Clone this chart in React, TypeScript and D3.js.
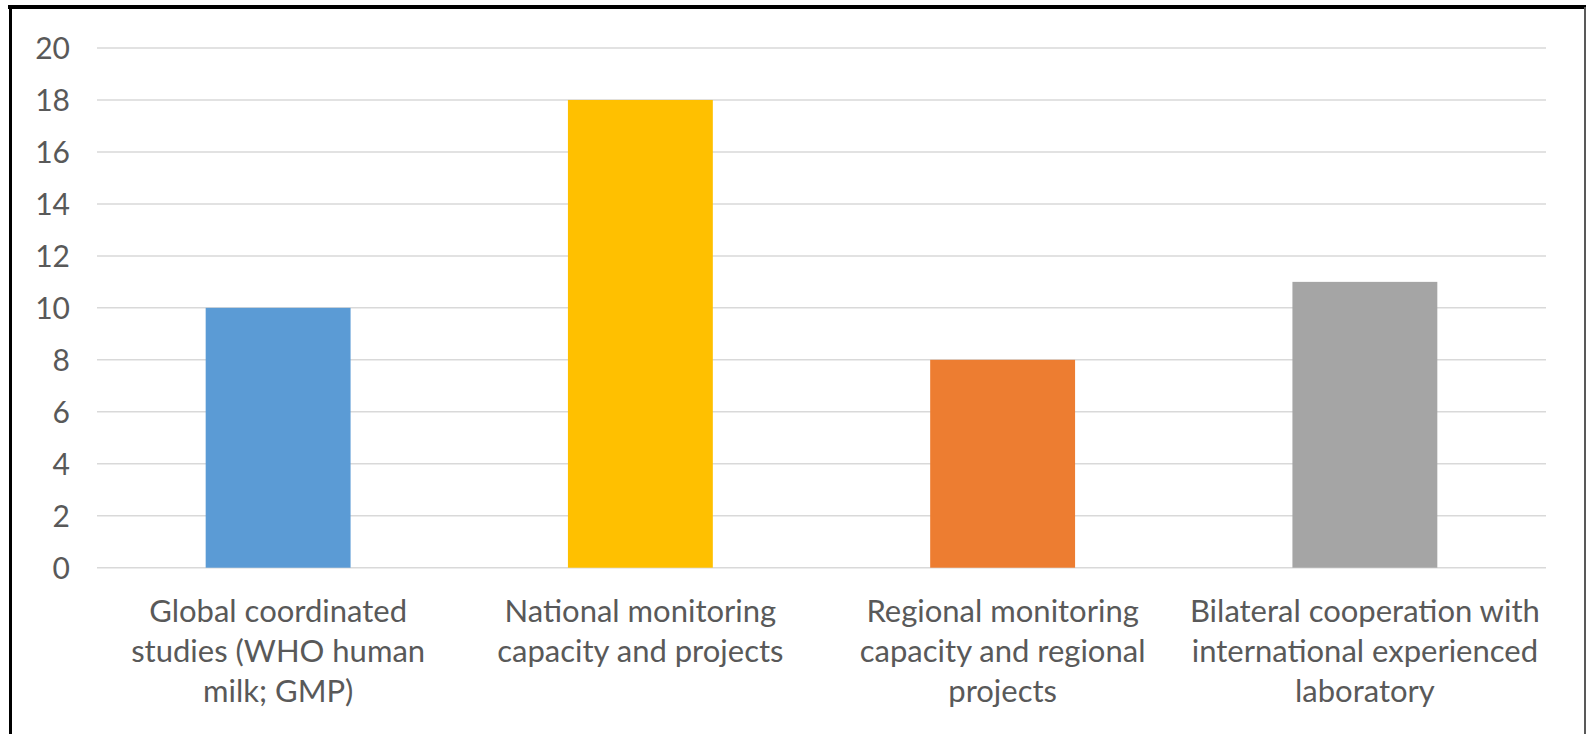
import * as d3 from "d3";

const categories = [
  ["Global coordinated", "studies (WHO human", "milk; GMP)"],
  ["National monitoring", "capacity and projects"],
  ["Regional monitoring", "capacity and regional", "projects"],
  ["Bilateral cooperation with", "international experienced", "laboratory"],
];
const values = [10, 18, 8, 11];
const colors = ["#5B9BD5", "#FFC000", "#ED7D31", "#A5A5A5"];
const yTicks = [0, 2, 4, 6, 8, 10, 12, 14, 16, 18, 20];

const App = () => {
  const width = 1587;
  const height = 734;
  const left = 97;
  const right = 1546;
  const top = 48;
  const bottom = 567.7;
  const font = "Lato, 'Noto Sans', sans-serif";
  const textColor = "#595959";

  const ids = categories.map((_, i) => String(i));
  const x = d3
    .scaleBand()
    .domain(ids)
    .range([left, right])
    .paddingInner(0.6)
    .paddingOuter(0.3);
  const y = d3.scaleLinear().domain([0, 20]).range([bottom, top]);

  return (
    <div style={{ position: "absolute", left: 0, top: 0 }}>
      <svg width={width} height={height} style={{ display: "block" }}>
        <rect x={0} y={0} width={width} height={height} fill="#fff" />
        {/* frame */}
        <line x1={8} y1={7} x2={1586} y2={7} stroke="#000" strokeWidth={4} />
        <line x1={10.5} y1={5} x2={10.5} y2={height} stroke="#000" strokeWidth={3} />
        <line x1={1585} y1={7} x2={1585} y2={height} stroke="#595959" strokeWidth={2} />

        {/* gridlines */}
        {yTicks.map((t) => (
          <line
            key={t}
            x1={left}
            x2={right}
            y1={y(t)}
            y2={y(t)}
            stroke="#D9D9D9"
            strokeWidth={1.5}
          />
        ))}

        {/* y labels */}
        {yTicks.map((t) => (
          <text
            key={"l" + t}
            x={70}
            y={y(t)}
            dy="0.36em"
            textAnchor="end"
            fontFamily={font}
            fontSize={30}
            fill={textColor}
          >
            {t}
          </text>
        ))}

        {/* bars */}
        {values.map((v, i) => (
          <rect
            key={i}
            x={x(ids[i])}
            y={y(v)}
            width={x.bandwidth()}
            height={y(0) - y(v)}
            fill={colors[i]}
          />
        ))}

        {/* category labels */}
        {categories.map((lines, i) => (
          <text
            key={"c" + i}
            textAnchor="middle"
            fontFamily={font}
            fontSize={31}
            fill={textColor}
          >
            {lines.map((ln, j) => (
              <tspan key={j} x={x(ids[i])! + x.bandwidth() / 2} y={622 + j * 40}>
                {ln}
              </tspan>
            ))}
          </text>
        ))}
      </svg>
    </div>
  );
};

export default App;
